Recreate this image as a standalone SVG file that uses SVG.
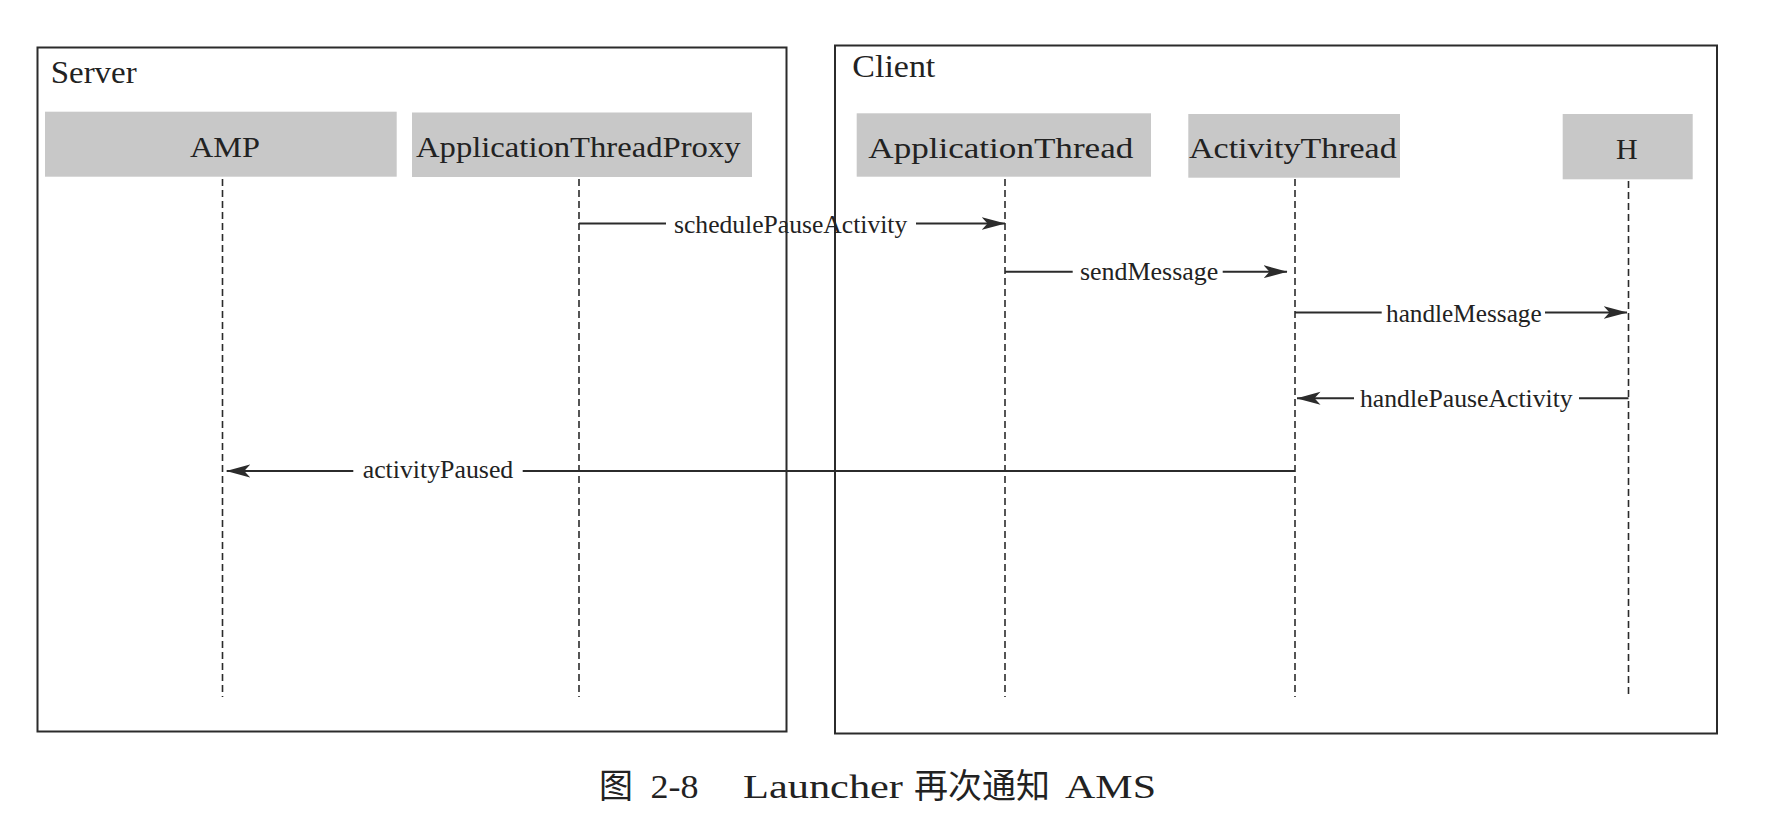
<svg xmlns="http://www.w3.org/2000/svg" width="1776" height="820" viewBox="0 0 1776 820">
  <style>
    .frame { fill: none; stroke: #2b2b2b; stroke-width: 2; }
    .head { fill: #c8c8c8; stroke: none; }
    .t { font-family: "Liberation Serif", "Times New Roman", serif; fill: #222222; }
    .title { font-size: 31px; }
    .hd { font-size: 30px; }
    .lbl { font-size: 25px; }
    .cap { font-family: "Liberation Serif", "Noto Sans CJK SC", serif; font-size: 34px; fill: #222222; }
    .cjk { font-family: "Noto Sans CJK SC", "Liberation Serif", sans-serif; }
    .life { stroke: #2b2b2b; stroke-width: 1.6; stroke-dasharray: 7 4; fill: none; }
    .msg { stroke: #2b2b2b; stroke-width: 2; fill: none; marker-end: url(#arrow); }
  </style>
  <defs>
    <marker id="arrow" markerUnits="userSpaceOnUse" viewBox="0 0 24 16" refX="23.5" refY="8" markerWidth="24" markerHeight="16" orient="auto">
      <path d="M0,1.5 L24,8 L0,14.5 L6,8 Z" fill="#2b2b2b"/>
    </marker>
  </defs>
  <rect width="1776" height="820" fill="#ffffff"/>

  <g id="server">
    <rect class="frame" x="37.5" y="47.5" width="749" height="684"/>
    <text class="t title" x="50.7" y="83.3" textLength="86" lengthAdjust="spacingAndGlyphs">Server</text>
  </g>
  <g id="client">
    <rect class="frame" x="835" y="45.5" width="882" height="688"/>
    <text class="t title" x="852.3" y="77.3" textLength="83" lengthAdjust="spacingAndGlyphs">Client</text>
  </g>

  <g id="amp">
    <rect class="head" x="45" y="111.7" width="351.7" height="65"/>
    <text class="t hd" x="190" y="156.5" textLength="70" lengthAdjust="spacingAndGlyphs">AMP</text>
    <line class="life" x1="222.5" y1="179" x2="222.5" y2="697"/>
  </g>
  <g id="applicationThreadProxy">
    <rect class="head" x="412" y="112.5" width="340" height="64.5"/>
    <text class="t hd" x="416" y="157" textLength="324.5" lengthAdjust="spacingAndGlyphs">ApplicationThreadProxy</text>
    <line class="life" x1="579" y1="179" x2="579" y2="697"/>
  </g>
  <g id="applicationThread">
    <rect class="head" x="856.7" y="113.3" width="294.3" height="63.4"/>
    <text class="t hd" x="868.3" y="157.5" textLength="265" lengthAdjust="spacingAndGlyphs">ApplicationThread</text>
    <line class="life" x1="1005" y1="179" x2="1005" y2="697"/>
  </g>
  <g id="activityThread">
    <rect class="head" x="1188.3" y="114" width="211.7" height="63.7"/>
    <text class="t hd" x="1189" y="158" textLength="207.7" lengthAdjust="spacingAndGlyphs">ActivityThread</text>
    <line class="life" x1="1295" y1="179" x2="1295" y2="697"/>
  </g>
  <g id="h">
    <rect class="head" x="1562.7" y="114" width="130" height="65.3"/>
    <text class="t hd" x="1616" y="158.5" textLength="21.7" lengthAdjust="spacingAndGlyphs">H</text>
    <line class="life" x1="1628.5" y1="181" x2="1628.5" y2="697"/>
  </g>

  <g id="connectors">
    <path class="msg" d="M579,223.5 H666 M916,223.5 H1005"/>
    <text class="t lbl" x="674" y="233" textLength="233.3" lengthAdjust="spacingAndGlyphs">schedulePauseActivity</text>

    <path class="msg" d="M1005,271.7 H1072.7 M1222.7,271.7 H1287"/>
    <text class="t lbl" x="1080" y="280" textLength="138.3" lengthAdjust="spacingAndGlyphs">sendMessage</text>

    <path class="msg" d="M1295,312.5 H1381.7 M1545,312.5 H1627"/>
    <text class="t lbl" x="1386" y="321.5" textLength="155.7" lengthAdjust="spacingAndGlyphs">handleMessage</text>

    <path class="msg" d="M1628.5,398.3 H1579 M1354,398.3 H1297"/>
    <text class="t lbl" x="1360" y="406.7" textLength="212.7" lengthAdjust="spacingAndGlyphs">handlePauseActivity</text>

    <path class="msg" d="M1295,471 H522.7 M353.3,471 H226.7"/>
    <text class="t lbl" x="362.7" y="478" textLength="150.6" lengthAdjust="spacingAndGlyphs">activityPaused</text>
  </g>

  <g id="caption">
    <text class="cap" y="798"><tspan class="cjk" x="599">图</tspan><tspan x="650.6" textLength="48" lengthAdjust="spacingAndGlyphs">2-8</tspan><tspan x="743" textLength="160" lengthAdjust="spacingAndGlyphs">Launcher</tspan><tspan class="cjk" x="914">再次通知</tspan><tspan x="1065" textLength="91" lengthAdjust="spacingAndGlyphs">AMS</tspan></text>
  </g>
</svg>
